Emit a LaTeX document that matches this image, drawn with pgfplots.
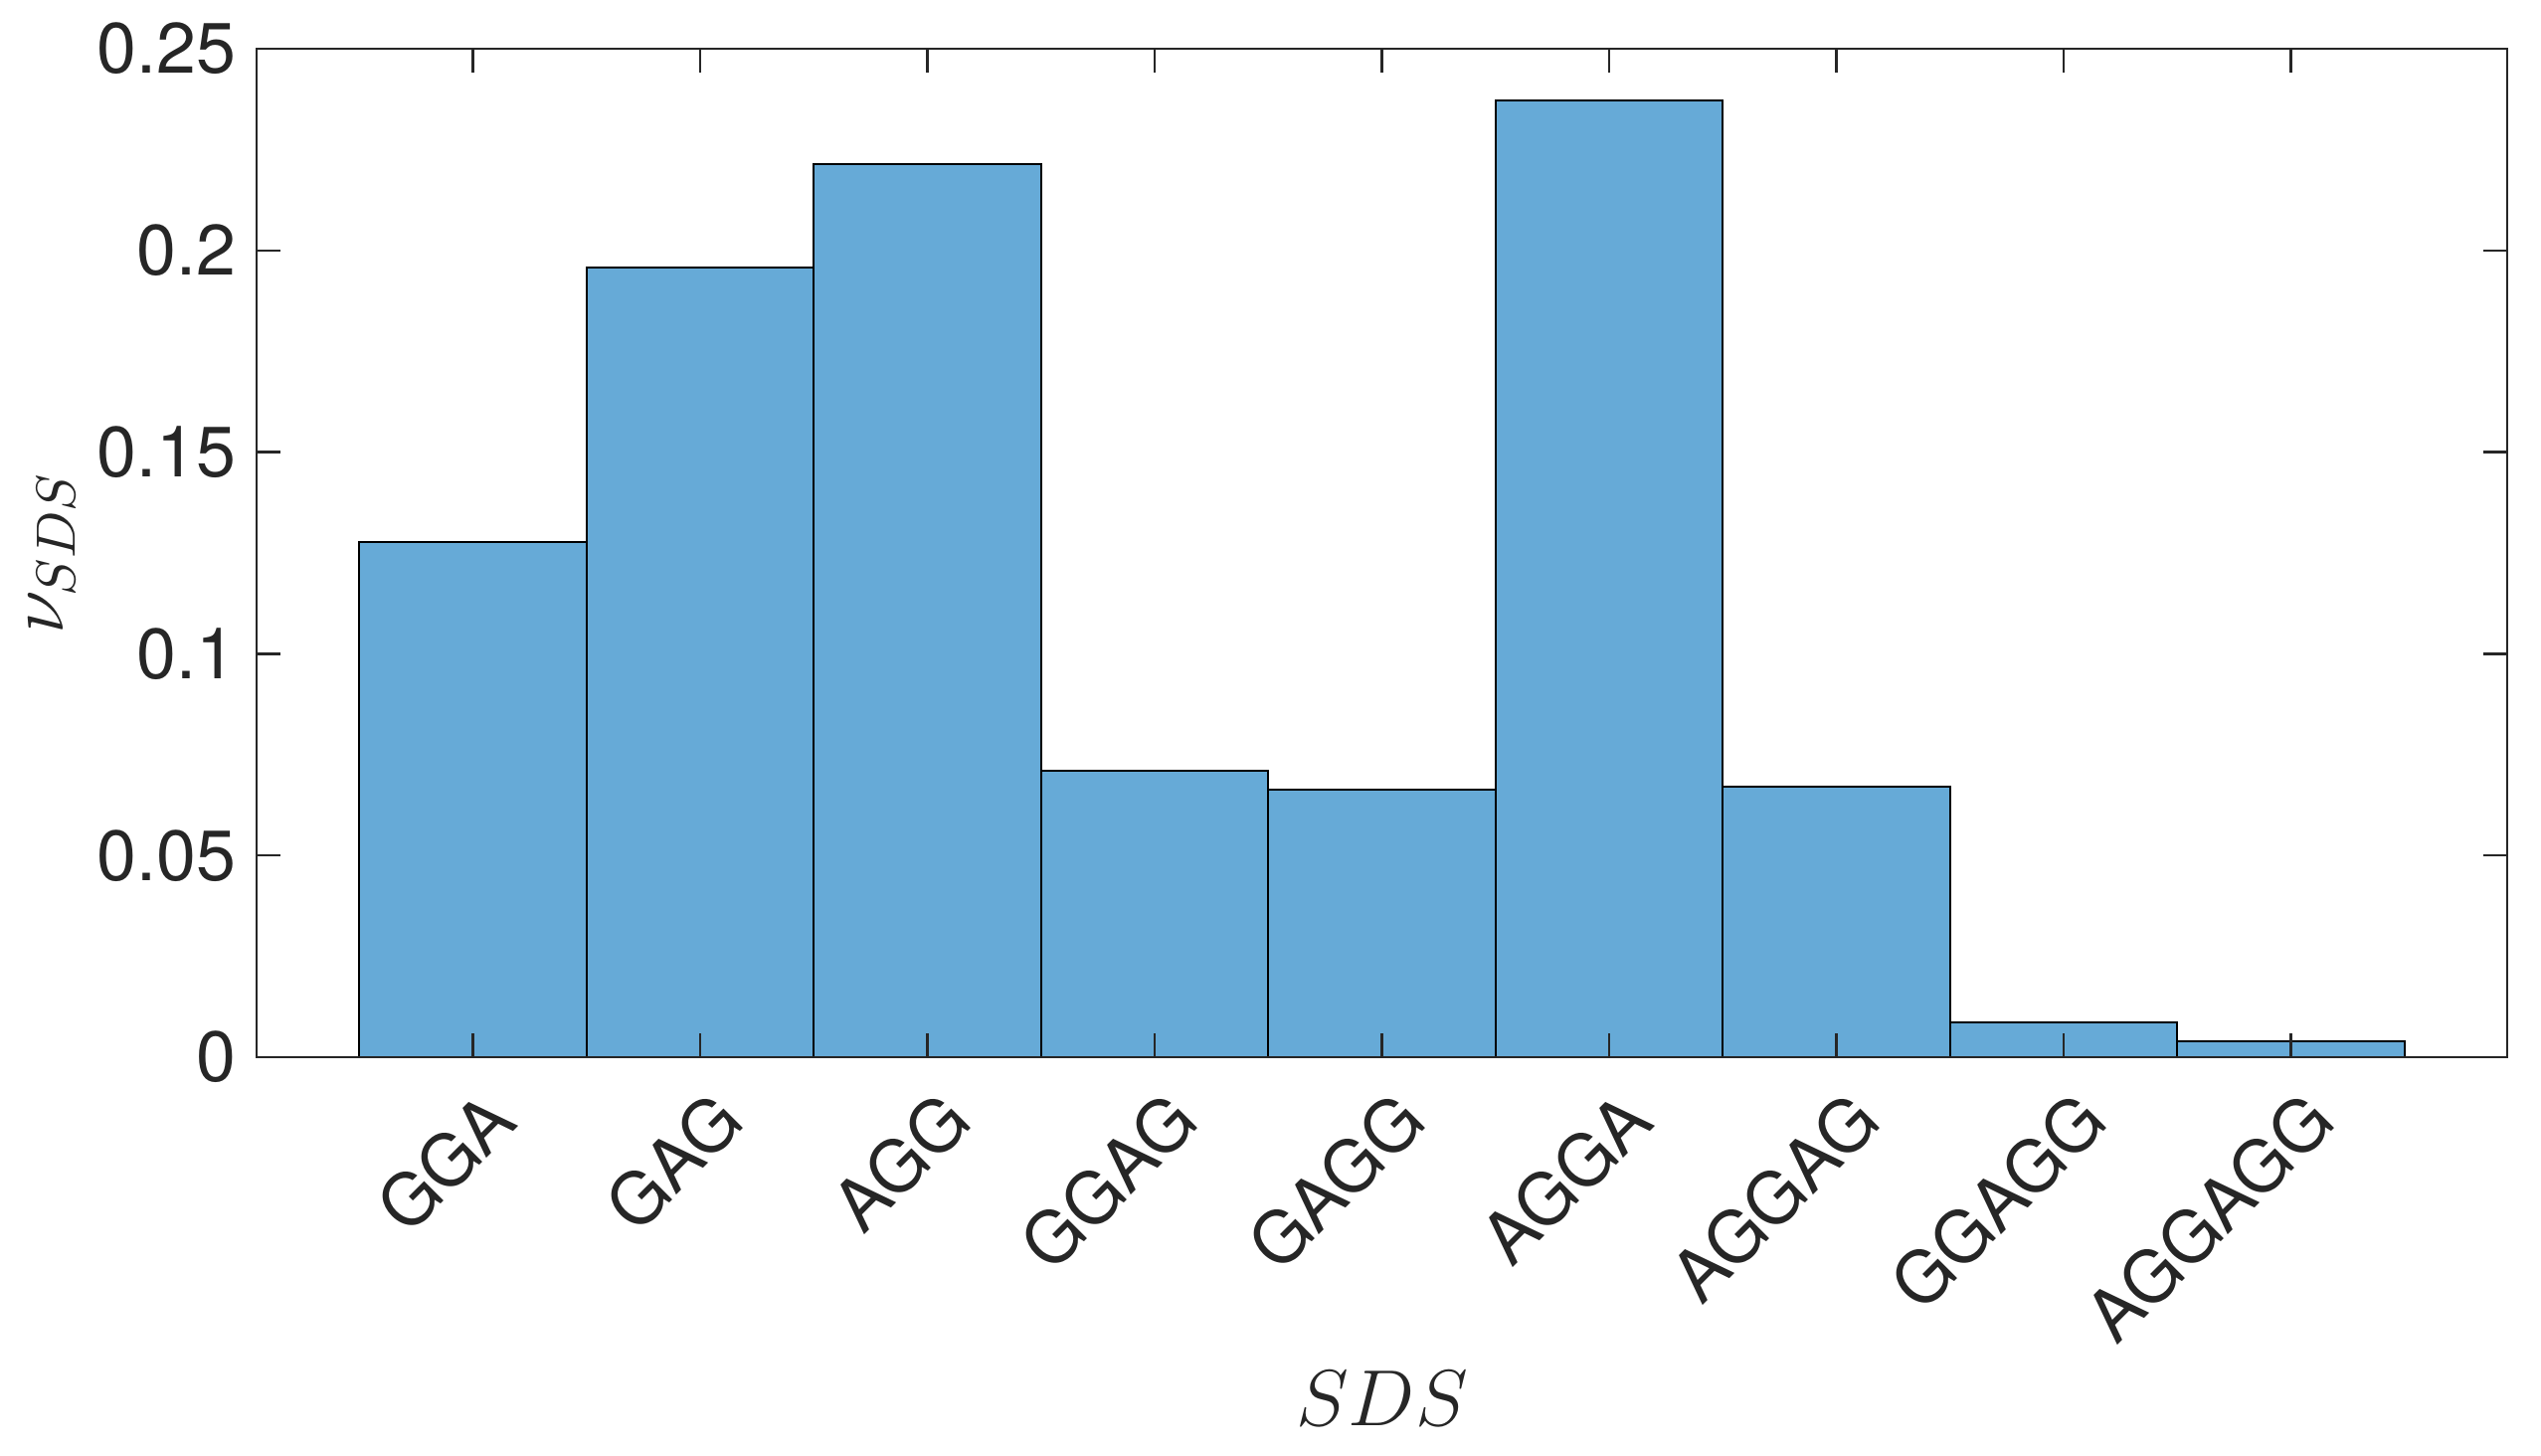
\documentclass[border=0pt]{standalone}
\usepackage{fontspec}
\setmainfont{TeX Gyre Heros}
\usepackage{pgfplots}
\pgfplotsset{compat=1.18}
\definecolor{barblue}{RGB}{102,170,215}
\definecolor{axgray}{RGB}{38,38,38}
\begin{document}
\begin{tikzpicture}
\begin{axis}[
  scale only axis,
  width=407.3pt, height=182.5pt,
  xmin=0.048, xmax=9.952,
  ymin=0, ymax=0.25,
  xtick={1,...,9},
  xticklabels={GGA,GAG,AGG,GGAG,GAGG,AGGA,AGGAG,GGAGG,AGGAGG},
  ytick={0,0.05,0.1,0.15,0.2,0.25},
  yticklabels={0,0.05,0.1,0.15,0.2,0.25},
  tick align=inside,
  major tick length=4.3pt,
  axis on top,
  axis line style={axgray, line width=0.4pt},
  tick style={axgray, line width=0.4pt},
  tick label style={font=\fontsize{12.9}{15.5}\selectfont, text=axgray},
  yticklabel style={inner sep=0pt, xshift=-3.5pt},
  xticklabel style={xshift=8.6pt, yshift=-12.2pt, rotate=45, anchor=base east, inner sep=0pt},
  xlabel={$SDS$},
  ylabel={$\nu_{SDS}$},
  label style={font=\fontsize{14.5}{17}\selectfont, text=axgray},
  xlabel style={at={(axis description cs:0.5,0)}, anchor=base, yshift=-66.6pt, inner sep=0pt},
  ylabel style={at={([xshift=-35.1pt]axis description cs:0,0.5)}, anchor=base, inner sep=0pt},
]
% fraction of occurrences per sequence
\addplot[ybar, bar width=1, fill=barblue, draw=black, line width=0.35pt] coordinates {
  (1,0.1276) (2,0.1958) (3,0.2213) (4,0.0710) (5,0.0663)
  (6,0.2372) (7,0.0670) (8,0.0087) (9,0.0039)
};
\end{axis}
\path ([xshift=-46.44pt,yshift=-72pt]current axis.south west) rectangle ([xshift=6.12pt,yshift=8.82pt]current axis.north east);
\end{tikzpicture}
\end{document}
